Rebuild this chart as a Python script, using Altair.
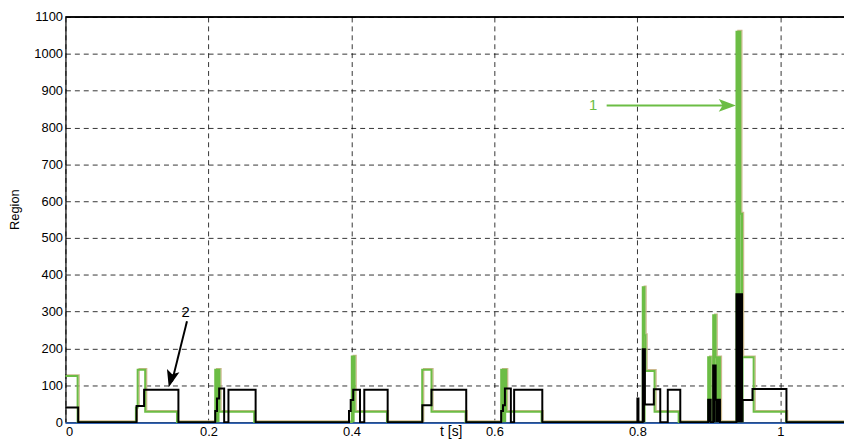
import altair as alt
import pandas as pd

# ---- data ----
green_t = [0, 0.017, 0.0985, 0.101, 0.1115, 0.156, 0.2095, 0.2155, 0.264, 0.4005, 0.4045,
           0.4497, 0.499, 0.512, 0.5597, 0.6095, 0.6165, 0.666, 0.8075, 0.810, 0.8115, 0.824,
           0.8577, 0.899, 0.9025, 0.906, 0.9095, 0.9155, 0.9386, 0.944, 0.9464, 0.9626, 1.008, 1.089]
green_v = [125, 0, 40, 142, 28, 0, 142, 28, 0, 178, 28,
           0, 142, 28, 0, 142, 28, 0, 366, 236, 139, 28,
           0, 176, 0, 290, 176, 0, 1060, 566, 176, 28, 0, 0]

green_bar_t0 = [0.2095, 0.4005, 0.6095, 0.8075, 0.810, 0.899, 0.906, 0.9095, 0.9386, 0.944, 0.9464]
green_bar_t1 = [0.2155, 0.4045, 0.6165, 0.810, 0.8115, 0.9025, 0.9095, 0.9155, 0.944, 0.9464, 0.9485]
green_bar_v = [142, 178, 142, 366, 236, 176, 290, 176, 1060, 566, 176]

black_t = [0, 0.0178, 0.0995, 0.110, 0.158, 0.2095, 0.212, 0.215, 0.222, 0.228, 0.266,
           0.3966, 0.399, 0.4025, 0.412, 0.418, 0.4507, 0.4992, 0.512, 0.5606,
           0.6095, 0.612, 0.6147, 0.623, 0.6276, 0.667, 0.800, 0.8015, 0.8075, 0.8105,
           0.823, 0.832, 0.8425, 0.860, 0.899, 0.9025, 0.906, 0.9095, 0.9155,
           0.9386, 0.9464, 0.961, 1.0085, 1.089]
black_v = [40, 0, 44, 88, 0, 30, 64, 91, 0, 88, 0,
           30, 60, 88, 0, 88, 0, 46, 88, 0,
           30, 46, 91, 0, 88, 0, 64, 0, 198, 48,
           89, 0, 88, 0, 61, 0, 154, 61, 0,
           347, 60, 90, 0, 0]

black_bar_t0 = [0.8075, 0.899, 0.906, 0.9095, 0.9386, 0.9464]
black_bar_t1 = [0.8105, 0.9025, 0.9095, 0.9155, 0.9464, 0.9485]
black_bar_v = [198, 61, 154, 61, 347, 60]

blue_t = [0, 1.089]
blue_v = [0, 0]

x_ticks = [0, 0.2, 0.4, 0.6, 0.8, 1]
y_ticks = [0, 100, 200, 300, 400, 500, 600, 700, 800, 900, 1000, 1100]
y_top = 1100

labels_text = ["1", "2"]
labels_t = [0.738, 0.168]
labels_v = [860, 300]
labels_color = ["#6cbd45", "#000000"]

arrow1 = {"x1": [0.757], "y1": [860], "x2": [0.930], "y2": [860], "tx": [0.9378], "ty": [860]}
arrow2 = {"x1": [0.170], "y1": [274], "x2": [0.149], "y2": [110], "tx": [0.1445], "ty": [95]}

GREEN = "#6cbd45"
TAN = "#cdb98f"
BLUE = "#3566b5"

green_df = pd.DataFrame({"t": green_t, "v": green_v})
black_df = pd.DataFrame({"t": black_t, "v": black_v})
blue_df = pd.DataFrame({"t": blue_t, "v": blue_v})
gbar_df = pd.DataFrame({"t": green_bar_t0, "t1": green_bar_t1, "v": green_bar_v})
bbar_df = pd.DataFrame({"t": black_bar_t0, "t1": black_bar_t1, "v": black_bar_v})
lab_df = pd.DataFrame({"t": labels_t, "v": labels_v, "txt": labels_text, "c": labels_color})
a1_df = pd.DataFrame(arrow1)
a2_df = pd.DataFrame(arrow2)

FONT = "Liberation Sans"
xs = alt.Scale(domain=[0, 1.089], nice=False, zero=False)
ys = alt.Scale(domain=[0, 1100], nice=False)
xaxis = alt.Axis(values=x_ticks, format="~g", title="t [s]", titleX=389, titleY=3,
                 titleBaseline="top", titleAlign="center", labelPadding=4,
                 labelOverlap=False, titleFontSize=14, labelFontSize=13, labelFont=FONT,
                 titleFont=FONT)
yaxis = alt.Axis(values=y_ticks, format="d", title="Region", titleX=-51, titleY=194,
                 titleAngle=-90, titleAlign="center", titleBaseline="middle", labelPadding=3,
                 labelOverlap=False, labelFontSize=13, titleFontSize=13, labelFont=FONT,
                 titleFont=FONT)


def X(f):
    return alt.X(f, type="quantitative", scale=xs, axis=xaxis)


def Y(f):
    return alt.Y(f, type="quantitative", scale=ys, axis=yaxis)


blue = alt.Chart(blue_df).mark_line(color=BLUE, strokeWidth=1.6, yOffset=1).encode(x=X("t"), y=Y("v"))
tan = alt.Chart(green_df).mark_line(color=TAN, strokeWidth=1.4, interpolate="step-after",
                                    xOffset=1.5, yOffset=-1.2).encode(x=X("t"), y=Y("v"))
green = alt.Chart(green_df).mark_line(color=GREEN, strokeWidth=2, interpolate="step-after").encode(
    x=X("t"), y=Y("v"))
gbars = alt.Chart(gbar_df).mark_rect(color=GREEN).encode(x=X("t"), x2="t1", y=Y("v"), y2=alt.datum(0))
black = alt.Chart(black_df).mark_line(color="#000000", strokeWidth=2, interpolate="step-after").encode(
    x=X("t"), y=Y("v"))
bbars = alt.Chart(bbar_df).mark_rect(color="#000000").encode(x=X("t"), x2="t1", y=Y("v"), y2=alt.datum(0))

top = alt.Chart(blue_df).mark_rule(color="#000000", strokeWidth=1.5).encode(
    y=alt.YDatum(y_top, scale=ys, axis=yaxis))

texts = alt.Chart(lab_df).mark_text(fontSize=15, font=FONT, align="center",
                                    baseline="middle").encode(
    x=X("t"), y=Y("v"), text="txt", color=alt.Color("c:N", scale=None))

head_path = "M0,0 L0.75,2 L0,1.55 L-0.75,2 Z"
a1_line = alt.Chart(a1_df).mark_rule(color=GREEN, strokeWidth=2).encode(
    x=X("x1"), y=Y("y1"), x2="x2", y2="y2")
a1_head = alt.Chart(a1_df).mark_point(shape=head_path, filled=True, size=300, angle=90,
                                      color=GREEN, opacity=1, strokeWidth=0).encode(x=X("tx"), y=Y("ty"))
a2_line = alt.Chart(a2_df).mark_rule(color="#000000", strokeWidth=2).encode(
    x=X("x1"), y=Y("y1"), x2="x2", y2="y2")
a2_head = alt.Chart(a2_df).mark_point(shape=head_path, filled=True, size=300, angle=195,
                                      color="#000000", opacity=1, strokeWidth=0).encode(x=X("tx"), y=Y("ty"))

chart = alt.layer(blue, tan, green, gbars, black, bbars, top, texts,
                  a1_line, a1_head, a2_line, a2_head).properties(
    width=786, height=409,
    autosize=alt.AutoSizeParams(type="none"),
    padding={"left": 58, "top": 7, "right": 0, "bottom": 21},
).configure_view(stroke=None).configure_axis(
    domainColor="#000000", domainWidth=1.2, ticks=False,
    labelColor="#000000", titleColor="#000000", titleFontWeight="normal",
    gridColor="#000000", gridDash=[5, 4], gridWidth=1, gridOpacity=0.8,
)

chart.save("out.html", embed_options={"renderer": "svg", "actions": False})
